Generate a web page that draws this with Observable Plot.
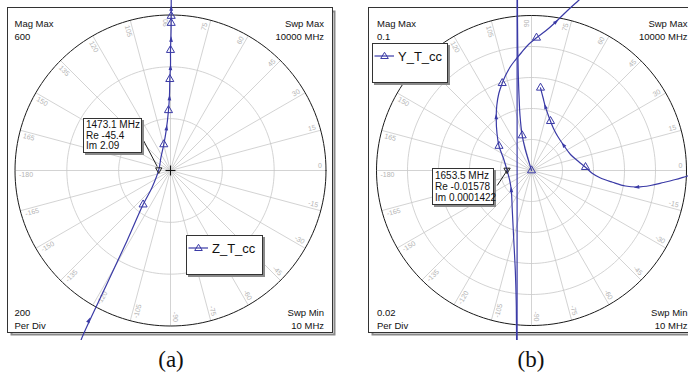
<!DOCTYPE html>
<html><head><meta charset="utf-8">
<script src="https://cdn.jsdelivr.net/npm/d3@7"></script>
<script src="https://cdn.jsdelivr.net/npm/@observablehq/plot@0.6"></script>
<style>
body{margin:0;background:#fff;}
#wrap{position:relative;width:688px;height:382px;overflow:hidden;background:#fff;font-family:"Liberation Sans",Arial,sans-serif;}
#wrap > svg{position:absolute;top:0;}
.box{position:absolute;background:#fff;border:1px solid #333;box-shadow:2px 2px 0 #8a8a8a;box-sizing:border-box;}
.ann{font-size:10px;line-height:10.5px;padding:1px 0 0 2px;color:#111;white-space:pre;}
.cap{position:absolute;font-family:"Liberation Serif","Times New Roman",serif;font-size:23px;line-height:1;top:348px;transform:translateX(-50%);color:#111;}
</style></head><body><div id="wrap"></div>
<script>
// ---------- data ----------
const angleTicks = [0,15,30,45,60,75,90,105,120,135,150,165,-180,-165,-150,-135,-120,-105,-90,-75,-60,-45,-30,-15];

// panel (a): Z_T_cc, ohm  (Mag Max 600, 200 per div)
const cornerTextA = ["Mag Max\n600", "Swp Max\n10000 MHz", "200\nPer Div", "Swp Min\n10 MHz"];
const zRe = [-354.2,-335.6,-245.0,-167.6,-105.7,-70.8,-45.4,-36.8,-25.9,-16.6,-7.7,-3.9,-2.7,0.0,0.0,1.9,2.7,2.7,3.1];
const zIm = [-677.4,-631.0,-437.4,-271.0,-131.6,-64.6,2.09,50.3,100.6,154.8,232.3,290.3,352.3,406.5,464.5,522.6,572.9,632.1,735.5];
const zMarkRe = [-105.7,-25.9,-7.7,-2.7,0.0,2.7,2.7];
const zMarkIm = [-131.6,100.6,232.3,352.3,464.5,569.0,596.1];
const zArrowRe = [-316.3,-15.5,-3.9,0.0,2.3,2.7];
const zArrowIm = [-580.6,161.4,277.6,394.2,503.2,623.2];
const zMarker = {freq: "1473.1 MHz", re: -45.4, im: 2.09};

// panel (b): Y_T_cc, S  (Mag Max 0.1, 0.02 per div)
const cornerTextB = ["Mag Max\n0.1", "Swp Max\n10000 MHz", "0.02\nPer Div", "Swp Min\n10 MHz"];
const yCenterRe = [0,-0.00194,-0.00419,-0.00600,-0.00742,-0.00806,-0.00852,-0.00884,-0.00903,-0.00916,-0.00923];
const yCenterIm = [0,0.00645,0.01419,0.02258,0.03548,0.04839,0.06129,0.07742,0.09677,0.17419,1.0];
const yWrapRe = [-0.00923,-0.00935];
const yWrapIm = [1.0,-1.0];
const yLoopRe = [-0.00935,-0.00948,-0.00961,-0.00987,-0.01045,-0.01142,-0.01239,-0.01303,-0.01406,-0.01578,-0.01806,-0.02097,-0.02226,-0.02277,-0.02239,-0.02110,-0.01890,-0.01677,-0.01355,-0.01032,-0.00645,-0.00194,0.00323,0.00903,0.01548,0.02258,0.03032,0.04452];
const yLoopIm = [-1.0,-0.18065,-0.10968,-0.08387,-0.06452,-0.04516,-0.02581,-0.01290,-0.00645,0.0001422,0.00774,0.01581,0.02387,0.03419,0.04194,0.04968,0.05632,0.06129,0.06710,0.07142,0.07613,0.08129,0.08561,0.09000,0.09568,0.10258,0.10968,0.12258];
const yRightRe = [0.12194,0.10903,0.10065,0.09290,0.08516,0.07677,0.06839,0.06065,0.05226,0.04452,0.03935,0.03484,0.03032,0.02516,0.02084,0.01677,0.01419,0.01226,0.01065,0.00903,0.00742,0.00581];
const yRightIm = [0.00129,-0.00129,-0.00355,-0.00581,-0.00774,-0.00968,-0.01065,-0.01000,-0.00755,-0.00484,-0.00194,0.00213,0.00581,0.01032,0.01613,0.02226,0.02710,0.03181,0.03613,0.04084,0.04710,0.05335];
const yMarkRe = [0,-0.00600,-0.02097,-0.01890,0.00323,0.03484,0.01226,0.00581];
const yMarkIm = [0,0.02258,0.01581,0.05632,0.08561,0.00213,0.03181,0.05335];
const yArrowRe = [-0.01303,-0.02277,0.01548,0.06839,0.02084,0.00903];
const yArrowIm = [-0.01290,0.03419,0.09568,-0.01065,0.01613,0.04084];
const yMarker = {freq: "1653.5 MHz", re: -0.01578, im: 0.0001422};

// ---------- helpers ----------
const blue = "#3a3aa6";
const FONT = "'Liberation Sans', Arial, sans-serif";
function rows(segs) {
  return segs.flatMap(([re, im], s) => re.map((r, i) => ({re: r, im: im[i], seg: s})));
}
function arrowRows(trace, aRe, aIm) {
  return aRe.map((re, i) => {
    const im = aIm[i];
    let best = Infinity, dir = [0, 1];
    for (let j = 1; j < trace.length; j++) {
      const p = trace[j-1], q = trace[j];
      if (p.seg !== q.seg) continue;
      const vx = q.re - p.re, vy = q.im - p.im, L2 = vx*vx + vy*vy;
      if (!L2) continue;
      let t = ((re - p.re)*vx + (im - p.im)*vy) / L2;
      t = Math.max(0, Math.min(1, t));
      const dx = p.re + t*vx - re, dy = p.im + t*vy - im, d = dx*dx + dy*dy;
      if (d < best) { best = d; dir = [vx, vy]; }
    }
    return {re, im, rot: 90 - Math.atan2(dir[1], dir[0]) * 180 / Math.PI};
  });
}
const arrowSym = {draw(ctx, size) {
  const s = Math.sqrt(size) / 2;
  ctx.moveTo(0, -1.5 * s); ctx.lineTo(0.75 * s, 0.7 * s); ctx.lineTo(-0.75 * s, 0.7 * s); ctx.closePath();
}};
const invTri = {draw(ctx, size) {
  const s = Math.sqrt(size) / 2;
  ctx.moveTo(0, 1.2 * s); ctx.lineTo(1.1 * s, -0.75 * s); ctx.lineTo(-1.1 * s, -0.75 * s); ctx.closePath();
}};

function panel(o) {
  const k = o.R / o.Rpx;
  const rad = Math.PI / 180;
  const xDom = [(o.mL - o.cx) * k, (o.W - o.mR - o.cx) * k];
  const yDom = [(o.cy - (o.H - o.mB)) * k, (o.cy - o.mT) * k];
  const rings = d3.range(o.step, o.R + o.step / 2, o.step);
  const ringPts = rings.flatMap(r => d3.range(0, 361, 2).map(a => ({r, x: r * Math.cos(a * rad), y: r * Math.sin(a * rad)})));
  const innerRings = ringPts.filter(d => d.r < o.R - o.step / 2);
  const outerRing = ringPts.filter(d => d.r >= o.R - o.step / 2);
  const spokes = angleTicks.map(a => ({x: o.R * Math.cos(a * rad), y: o.R * Math.sin(a * rad)}));
  const rl = o.R * 151 / 155, off = 4.5 * k;
  const labels = angleTicks.map(a => {
    const c = Math.cos(a * rad), s = Math.sin(a * rad), right = Math.abs(a) <= 90;
    return {t: String(a), right, x: rl * c - off * s, y: rl * s + off * c, rot: right ? -a : 180 - a};
  });
  const arrows = arrowRows(o.trace, o.arrowRe, o.arrowIm);
  const markPts = o.markRe.map((re, i) => ({re, im: o.markIm[i]}));
  const m = o.marker;
  const lead = [{x1: m.re + o.lead[0] * k, y1: m.im - o.lead[1] * k, x2: m.re + o.lead[2] * k, y2: m.im - o.lead[3] * k}];
  const ct = (txt, fa, ta, la, dx, dy) => Plot.text([txt], {frameAnchor: fa, text: d => d, textAnchor: ta, lineAnchor: la, dx, dy, fontSize: 9.5, lineHeight: 1.3, fill: "#111", fontFamily: FONT});
  const svg = Plot.plot({
    width: o.W, height: o.H, marginLeft: o.mL, marginRight: o.mR, marginTop: o.mT, marginBottom: o.mB,
    x: {domain: xDom, axis: null}, y: {domain: yDom, axis: null},
    style: {fontFamily: FONT, overflow: "hidden", background: "transparent"},
    marks: [
      Plot.frame({stroke: "#8a8a8a", strokeWidth: 2, insetLeft: 4, insetTop: 4, insetRight: -2, insetBottom: -2}),
      Plot.frame({fill: "white", stroke: "none"}),
      Plot.link(spokes, {x1: d => 0, y1: d => 0, x2: "x", y2: "y", stroke: "#c8c8c8", strokeWidth: 0.8}),
      Plot.line(innerRings, {x: "x", y: "y", z: "r", stroke: "#c8c8c8", strokeWidth: 0.8}),
      Plot.line(outerRing, {x: "x", y: "y", stroke: "#1a1a1a", strokeWidth: 1}),
      Plot.text(labels.filter(d => d.right), {x: "x", y: "y", text: "t", rotate: "rot", textAnchor: "end", lineAnchor: "middle", fontSize: 7, fill: "#b4b4b4", fontFamily: FONT}),
      Plot.text(labels.filter(d => !d.right), {x: "x", y: "y", text: "t", rotate: "rot", textAnchor: "start", lineAnchor: "middle", fontSize: 7, fill: "#b4b4b4", fontFamily: FONT}),
      Plot.frame({stroke: "#333", strokeWidth: 1}),
      ct(o.corner[0], "top-left", "start", "top", o.cdxL, 11),
      ct(o.corner[1], "top-right", "end", "top", o.cdxR, 11),
      ct(o.corner[2], "bottom-left", "start", "bottom", o.cdxL, -4),
      ct(o.corner[3], "bottom-right", "end", "bottom", o.cdxR, -4),
      o.plus ? Plot.dot([{re: 0, im: 0}], {x: "re", y: "im", symbol: "plus", r: 3.3, stroke: "#111", strokeWidth: 1}) : null,
      Plot.line(o.trace, {x: "re", y: "im", z: "seg", stroke: blue, strokeWidth: 1.2, curve: "catmull-rom"}),
      Plot.dot(markPts, {x: "re", y: "im", symbol: "triangle", r: 3, stroke: blue, fill: "none", strokeWidth: 1}),
      Plot.dot(arrows, {x: "re", y: "im", symbol: arrowSym, rotate: "rot", r: 2.8, fill: blue, stroke: "none"}),
      Plot.link(lead, {x1: "x1", y1: "y1", x2: "x2", y2: "y2", stroke: "#222", strokeWidth: 1}),
      Plot.dot([m], {x: "re", y: "im", symbol: invTri, r: 3.2, stroke: "#222", fill: "none", strokeWidth: 1})
    ]
  });
  svg.style.left = o.left + "px";
  return svg;
}

const zTrace = rows([[zRe, zIm]]);
const yTrace = rows([[yCenterRe, yCenterIm], [yWrapRe, yWrapIm], [yLoopRe, yLoopIm], [yRightRe, yRightIm]]);

const wrap = document.getElementById("wrap");
wrap.appendChild(panel({
  left: 0, W: 344, H: 340, mL: 7, mR: 12, mT: 7, mB: 8, cx: 170, cy: 170, R: 600, Rpx: 155.5, step: 200,
  corner: cornerTextA, cdxL: 7, cdxR: -8.5, plus: true,
  trace: zTrace, markRe: zMarkRe, markIm: zMarkIm, arrowRe: zArrowRe, arrowIm: zArrowIm,
  marker: zMarker, lead: [-15.5, -30, -1.5, -3.5]
}));
wrap.appendChild(panel({
  left: 344, W: 360, H: 340, mL: 24, mR: 9, mT: 7, mB: 8, cx: 187, cy: 170, R: 0.1, Rpx: 155, step: 0.02,
  corner: cornerTextB, cdxL: 8.5, cdxR: -8, plus: false,
  trace: yTrace, markRe: yMarkRe, markIm: yMarkIm, arrowRe: yArrowRe, arrowIm: yArrowIm,
  marker: yMarker, lead: [-9.8, 15.2, 1.5, -2]
}));

// legends and marker read-outs (HTML overlays)
function addBox(cls, l, t, w, h, html) {
  const d = document.createElement("div");
  d.className = "box " + cls;
  d.style.left = l + "px"; d.style.top = t + "px"; d.style.width = w + "px"; d.style.height = h + "px";
  d.innerHTML = html;
  wrap.appendChild(d);
}
function legendSvg(name) {
  return `<svg width="78" height="40" style="display:block"><line x1="1.5" y1="12" x2="21" y2="12" stroke="${blue}" stroke-width="1.2"/>` +
    `<path d="M11.5,8.3 L15.3,14.5 L7.7,14.5Z" fill="none" stroke="${blue}"/>` +
    `<text x="25" y="17" font-size="13" font-family="${FONT.replace(/'/g, "")}" fill="#111">${name}</text></svg>`;
}
const legendNames = ["Z_T_cc", "Y_T_cc"];
addBox("", 186, 235, 77, 40, legendSvg(legendNames[0]));
addBox("", 372, 43, 76, 40, legendSvg(legendNames[1]));
addBox("ann", 83, 118, 59, 35, `${zMarker.freq}\nRe ${zMarker.re}\nIm ${zMarker.im}`);
const annB = document.createElement("div");
addBox("ann", 432, 168, 62, 37, `${yMarker.freq}\nRe ${yMarker.re}\nIm ${yMarker.im}`);
wrap.lastChild.style.lineHeight = "11px";

const caps = [["(a)", 171], ["(b)", 531]];
for (const [t, x] of caps) {
  const d = document.createElement("div");
  d.className = "cap"; d.style.left = x + "px"; d.textContent = t;
  wrap.appendChild(d);
}
</script></body></html>
